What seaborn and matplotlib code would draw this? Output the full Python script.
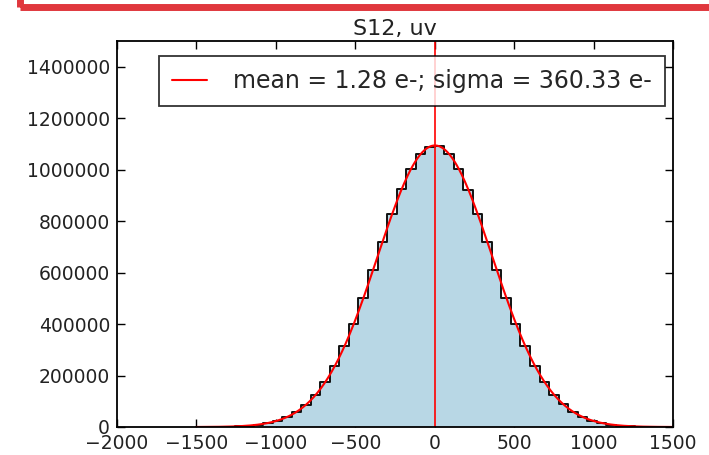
import numpy as np
import pandas as pd
import matplotlib
matplotlib.use("Agg")
import matplotlib.pyplot as plt
import seaborn as sns
from matplotlib.patches import Rectangle

# ---- data ----
bin_edges = list(range(-1500, 1501, 60))           # 50 bins, width 60
left_counts = [270, 530, 990, 1810, 3240, 5640, 9500, 15800, 25200, 39000,
               59400, 87300, 125600, 175100, 237000, 313300, 401500, 501900,
               609000, 719500, 826000, 923300, 1003000, 1060500, 1090000]
right_counts = [1090500, 1060200, 1003400, 922900, 826400, 719100, 609300,
                501300, 402000, 312900, 237400, 174700, 125200, 87600, 59200,
                39200, 25000, 15600, 9540, 5600, 3220, 1790, 970, 510, 265]
counts = left_counts + right_counts
fit_mean = 1.28
fit_sigma = 360.33
fit_amp = 1094000
title_text = "S12, uv"
x_ticks = [-2000, -1500, -1000, -500, 0, 500, 1000, 1500]
y_ticks = [0, 200000, 400000, 600000, 800000, 1000000, 1200000, 1400000]

edges = [float(e) for e in bin_edges]
centers = [(a + b) / 2 for a, b in zip(edges[:-1], edges[1:])]
df = pd.DataFrame({"x": centers, "w": counts})

sns.set_theme(style="white")
plt.rcParams["font.family"] = ["DejaVu Sans"]

fig = plt.figure(figsize=(7.09, 4.55), dpi=100)
ax = fig.add_axes([117 / 709, 1 - 427 / 455, (673 - 117) / 709, (427 - 41) / 455])

sns.histplot(data=df, x="x", weights="w", bins=edges, element="step",
             fill=True, color="#b8d7e5", alpha=1, linewidth=0, ax=ax)
sns.histplot(data=df, x="x", weights="w", bins=edges, element="step",
             fill=False, color="#111111", linewidth=1.4, ax=ax)

xf = np.linspace(edges[0], edges[-1], 400)
yf = fit_amp * np.exp(-0.5 * ((xf - fit_mean) / fit_sigma) ** 2)
sns.lineplot(x=xf, y=yf, color="red", linewidth=1.5, ax=ax,
             label=f"mean = {fit_mean:.2f} e-; sigma = {fit_sigma:.2f} e-")
ax.axvline(fit_mean, color="red", linewidth=1.2)

ax.set_xlim(-2000, 1500)
ax.set_ylim(0, 1500000)
ax.set_xticks(x_ticks)
ax.set_yticks(y_ticks)
ax.set_xticklabels([("\u2212" + str(abs(t))) if t < 0 else str(t) for t in x_ticks])
ax.set_yticklabels([str(t) for t in y_ticks])
ax.set_xlabel("")
ax.set_ylabel("")
ax.tick_params(direction="in", length=6, width=1, colors="black",
               labelsize=13.5, top=True, right=True, bottom=True, left=True,
               labelcolor="#222222", pad=5)
for s in ax.spines.values():
    s.set_color("black")
    s.set_linewidth(1.3)
ax.set_title(title_text, fontsize=16, color="#222222", pad=4)

leg = ax.legend(loc="upper right", fontsize=17, frameon=True, fancybox=False,
                edgecolor="black", handlelength=1.5, borderpad=0.55,
                handletextpad=1.1, borderaxespad=0,
                bbox_to_anchor=(1 - 8 / 556, 1 - 15 / 386))
leg.get_frame().set_linewidth(1.3)

# red frame partly visible at top of screenshot
W, H = 709, 455
frame = Rectangle((20 / W, 1 - 7 / H), 760 / W, 100 / H, transform=fig.transFigure,
                  fill=False, edgecolor="#e0373d", linewidth=5, clip_on=False)
fig.patches.append(frame)

fig.savefig("out.png", dpi=100)
